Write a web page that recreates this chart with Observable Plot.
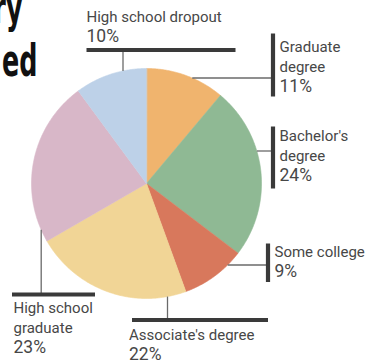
<!DOCTYPE html>
<html><head><meta charset="utf-8">
<script src="https://cdn.jsdelivr.net/npm/d3@7"></script>
<script src="https://cdn.jsdelivr.net/npm/@observablehq/plot@0.6"></script>
<style>html,body{margin:0;padding:0;background:#fff;} #chart svg{display:block}</style>
</head><body><div id="chart"></div>
<script>
// ---- data ----
const categories = ["Graduate degree", "Bachelor's degree", "Some college", "Associate's degree", "High school graduate", "High school dropout"];
const labelLines = [["Graduate", "degree"], ["Bachelor's", "degree"], ["Some college"], ["Associate's degree"], ["High school", "graduate"], ["High school dropout"]];
const percents = [11, 24, 9, 22, 23, 10];
const percentLabels = ["11%", "24%", "9%", "22%", "23%", "10%"];
const colors = ["#f0b46e", "#8fb994", "#d8785c", "#f1d596", "#d8b7c8", "#bdd1e8"];
const headline = ["ry", "ed"];

// ---- layout ----
const W = 367, H = 362, CX = 146, CY = 183, R = 115;
const bars = [
  [272.5, 33, 272.5, 96],
  [272.5, 126, 272.5, 188],
  [267.5, 243, 267.5, 281.5],
  [131.5, 319.5, 267.5, 319.5],
  [11.5, 294, 94.5, 294],
  [86, 49.5, 235, 49.5]
];
const connectors = [
  {dir: "h", at: 77.5, to: 272.5},
  {dir: "h", at: 150.5, to: 272.5},
  {dir: "h", at: 264.5, to: 267.5},
  {dir: "v", at: 167, to: 319.5},
  {dir: "v", at: 40.7, to: 294},
  {dir: "v", at: 122.5, to: 49.5}
];
// [x, baseline of last (percentage) line]
const textPos = [[279, 91], [279, 180], [274, 276.7], [128.5, 359.5], [13, 352.7], [86, 41.7]];
const lineGap = 20, nameSize = 15, pctSize = 17.5;
const headlinePos = [[22, 22], [37, 75]];
const headlineWidth = 35.5; // visible width of "ed"

// ---- geometry ----
const arcs = d3.pie().sort(null).value(d => d)(percents);
const slices = arcs.map((a) => {
  const pts = [{x: CX, y: CY}];
  const n = Math.max(2, Math.ceil((a.endAngle - a.startAngle) / (Math.PI / 360)));
  for (let k = 0; k <= n; k++) {
    const t = a.startAngle + (a.endAngle - a.startAngle) * k / n;
    pts.push({x: CX + R * Math.sin(t), y: CY - R * Math.cos(t)});
  }
  return pts;
});
const barData = bars.map(([x1, y1, x2, y2], i) => ({x1, y1, x2, y2, cat: categories[i]}));
const connData = connectors.map((c) => {
  if (c.dir === "h") {
    const s = c.to > CX ? 1 : -1;
    const rx = CX + s * Math.sqrt(R * R - (c.at - CY) ** 2);
    return {x1: rx, y1: c.at, x2: c.to, y2: c.at};
  } else {
    const s = c.to > CY ? 1 : -1;
    const ry = CY + s * Math.sqrt(R * R - (c.at - CX) ** 2);
    return {x1: c.at, y1: ry, x2: c.at, y2: c.to};
  }
});
const nameData = [], pctData = [];
categories.forEach((c, i) => {
  const [x, yb] = textPos[i];
  const lines = labelLines[i];
  lines.forEach((t, k) => nameData.push({x, y: yb - (lines.length - k) * lineGap, text: t}));
  pctData.push({x, y: yb, text: percentLabels[i]});
});
const headData = headline.map((t, i) => ({x: headlinePos[i][0], y: headlinePos[i][1], text: t}));

const txt = {x: "x", y: "y", text: "text", textAnchor: "start", lineAnchor: "bottom", fill: "#474747", fontFamily: "Roboto, 'Open Sans', sans-serif"};
const chart = Plot.plot({
  width: W, height: H, margin: 0,
  x: {domain: [0, W], range: [0, W], axis: null},
  y: {domain: [0, H], range: [0, H], axis: null},
  style: {background: "#fff"},
  marks: [
    ...slices.map((pts, i) => Plot.line(pts, {x: "x", y: "y", fill: colors[i], stroke: colors[i], strokeWidth: 0.6, curve: "linear-closed"})),
    Plot.link(connData, {x1: "x1", y1: "y1", x2: "x2", y2: "y2", stroke: "#6a6a6a", strokeWidth: 1.3}),
    Plot.link(barData, {x1: "x1", y1: "y1", x2: "x2", y2: "y2", stroke: "#3a3a3a", strokeWidth: 4.2}),
    Plot.text(nameData, {...txt, fontSize: nameSize}),
    Plot.text(pctData, {...txt, fontSize: pctSize}),
    Plot.text(headData, {x: "x", y: "y", text: "text", textAnchor: "end", lineAnchor: "bottom", fontSize: 45, fontWeight: "bold", fill: "#111", fontFamily: "'DejaVu Sans', sans-serif"})
  ]
});
document.getElementById("chart").appendChild(chart);

// condense the headline fragments horizontally (anchored at their right edge)
const headTexts = Array.from(chart.querySelectorAll("text")).filter(t => headline.includes(t.textContent));
const ed = headTexts.find(t => t.textContent === headline[1]);
const s = ed ? headlineWidth / ed.getBBox().width : 0.6;
headTexts.forEach(t => {
  const x = +t.getAttribute("x") || 0;
  const prev = t.getAttribute("transform") || "";
  t.setAttribute("transform", `${prev} translate(${x},0) scale(${s},1) translate(${-x},0)`);
});
</script>
</body></html>
